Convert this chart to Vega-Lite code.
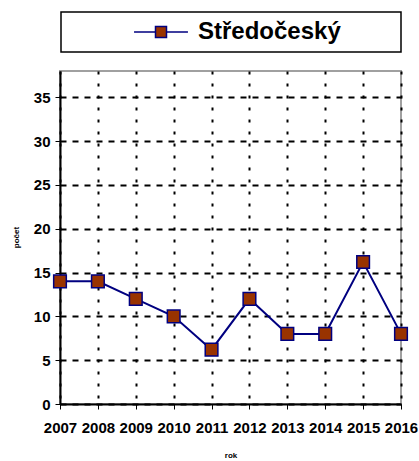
{
  "$schema": "https://vega.github.io/schema/vega-lite/v6.json",
  "autosize": {"type": "none"},
  "width": 341,
  "height": 333,
  "padding": {"left": 60, "top": 71, "right": 18, "bottom": 57},
  "background": "white",
  "config": {
    "font": "Liberation Sans",
    "view": {"stroke": "#a0a0a0", "strokeWidth": 2}
  },
  "data": {
    "values": [
      {"rok": "2007", "pocet": 14, "kraj": "Středočeský"},
      {"rok": "2008", "pocet": 14, "kraj": "Středočeský"},
      {"rok": "2009", "pocet": 12, "kraj": "Středočeský"},
      {"rok": "2010", "pocet": 10, "kraj": "Středočeský"},
      {"rok": "2011", "pocet": 6.2, "kraj": "Středočeský"},
      {"rok": "2012", "pocet": 12, "kraj": "Středočeský"},
      {"rok": "2013", "pocet": 8, "kraj": "Středočeský"},
      {"rok": "2014", "pocet": 8, "kraj": "Středočeský"},
      {"rok": "2015", "pocet": 16.2, "kraj": "Středočeský"},
      {"rok": "2016", "pocet": 8, "kraj": "Středočeský"}
    ]
  },
  "encoding": {
    "x": {
      "field": "rok", "type": "ordinal",
      "scale": {"type": "point", "padding": 0},
      "axis": {
        "title": "rok", "titleFontSize": 8, "titleFontWeight": "bold", "titleColor": "black",
        "titleY": 47, "titleBaseline": "top",
        "labelAngle": 0, "labelFontSize": 15, "labelFontWeight": "bold", "labelColor": "black",
        "labelPadding": 11, "tickSize": 5, "tickColor": "black", "tickWidth": 1,
        "domainColor": "black", "domainWidth": 2,
        "grid": true, "gridColor": "black", "gridWidth": 2, "gridDash": [3, 9], "gridOpacity": 1
      }
    },
    "y": {
      "field": "pocet", "type": "quantitative",
      "scale": {"domain": [0, 38], "nice": false},
      "axis": {
        "values": [0, 5, 10, 15, 20, 25, 30, 35],
        "title": "počet", "titleFontSize": 8, "titleFontWeight": "bold", "titleColor": "black",
        "titleX": -44, "titleY": 166, "titleBaseline": "middle", "titleAngle": -90,
        "labelFontSize": 15, "labelFontWeight": "bold", "labelColor": "black",
        "labelPadding": 5, "tickSize": 5, "tickColor": "black", "tickWidth": 1,
        "domainColor": "black", "domainWidth": 2,
        "grid": true, "gridColor": "black", "gridWidth": 2, "gridDash": [6, 6], "gridOpacity": 1
      }
    }
  },
  "layer": [
    {
      "mark": {"type": "line", "strokeWidth": 2},
      "encoding": {
        "color": {
          "field": "kraj", "type": "nominal",
          "scale": {"range": ["#000080"]},
          "legend": {
            "title": "\u00a0",
            "titleOrient": "right",
            "titlePadding": 52,
            "titleFontSize": 23,
            "orient": "none",
            "legendX": 1,
            "legendY": -59,
            "padding": 8,
            "strokeColor": "black",
            "fillColor": "white",
            "symbolType": "M-2.45,0H-0.5M0.5,0H2.45M-0.5,-0.5H0.5V0.5H-0.5Z",
            "symbolSize": 484,
            "symbolOffset": 80,
            "labelOffset": 25,
            "labelFontSize": 24,
            "labelFontWeight": "bold",
            "labelColor": "black",
            "labelLimit": 400,
            "encode": {
              "legend": {
                "update": {
                  "strokeWidth": {"value": 1.5}
                }
              },
              "symbols": {
                "update": {
                  "fill": {"value": "#993300"},
                  "stroke": {"value": "#000080"},
                  "strokeWidth": {"value": 1.5},
                  "opacity": {"value": 1}
                }
              }
            }
          }
        }
      }
    },
    {
      "mark": {"type": "point", "shape": "square", "filled": true, "fill": "#993300", "stroke": "#000080", "strokeWidth": 1.5, "size": 160, "opacity": 1}
    }
  ]
}
